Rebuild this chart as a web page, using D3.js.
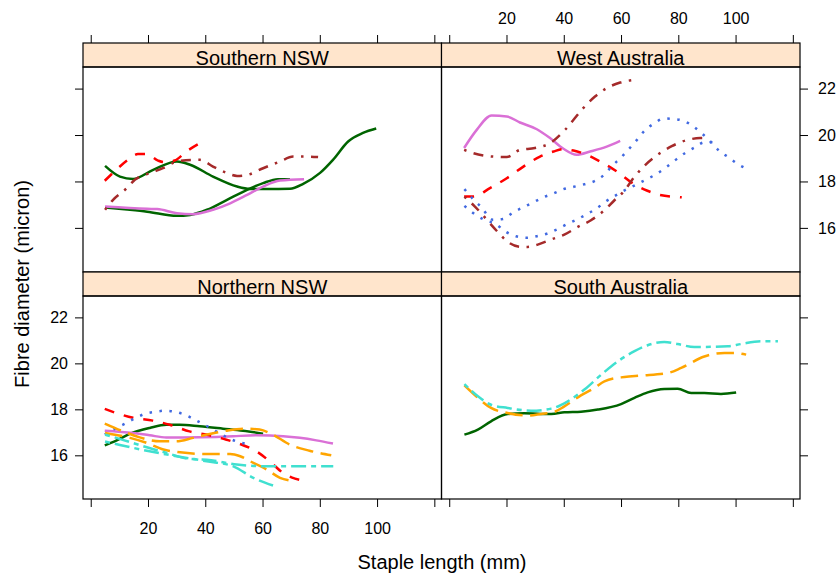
<!DOCTYPE html>
<html>
<head>
<meta charset="utf-8">
<script src="https://cdn.jsdelivr.net/npm/d3@7"></script>
<style>
  body { margin: 0; background: #fff; }
  svg { display: block; font-family: "Liberation Sans", Arial, sans-serif; }
</style>
</head>
<body>
<svg id="chart"></svg>
<script>
// panel names, left-right then top-bottom
const regions = ['Southern NSW', 'West Australia', 'Northern NSW', 'South Australia'];

// one colour and line type per group
const groupColors = ['#006400', '#FF0000', '#4169E1', '#A52A2A', '#DA70D6', '#FFA500', '#40E0D0'];
const groupDash = [null, '10,10', '2.5,7.5', '2.5,7.5,10,7.5', null, '17.5,7.5', '5,5,15,5'];

const xTicks = [0, 20, 40, 60, 80, 100, 120];
const xLabels = [20, 40, 60, 80, 100];
const yTicks = [16, 18, 20, 22];

// smoothed curves
const southernNSW = [
  { group: 0, x: [5.0, 10.2, 14.8, 21.8, 30.1, 34.7, 42.7, 51.1, 55.6, 61.6, 69.6, 74.2, 80.1, 84.6, 89.9, 95.1, 99.7],
    y: [18.67, 18.21, 18.11, 18.50, 18.86, 18.72, 18.21, 17.78, 17.68, 17.68, 17.69, 17.90, 18.37, 18.93, 19.72, 20.09, 20.28] },
  { group: 0, x: [5.0, 13.7, 19.7, 30.1, 34.7, 40.6, 47.6, 54.6, 60.2, 65.4, 69.6],
    y: [16.88, 16.78, 16.70, 16.52, 16.56, 16.78, 17.21, 17.64, 17.93, 18.10, 18.10] },
  { group: 4, x: [5.0, 19.7, 23.2, 30.1, 35.7, 42.7, 48.7, 54.6, 60.2, 66.1, 74.5],
    y: [16.92, 16.82, 16.81, 16.63, 16.59, 16.78, 17.06, 17.42, 17.78, 18.04, 18.10] },
  { group: 1, x: [4.9, 8.9, 13.0, 16.5, 19.4, 23.5, 25.8, 29.3, 33.4, 38.6],
    y: [18.03, 18.50, 18.93, 19.18, 19.18, 18.90, 18.83, 18.90, 19.29, 19.68] },
  { group: 3, x: [5.0, 7.8, 12.6, 15.4, 20.7, 25.2, 30.1, 35.7, 38.2, 42.7, 47.6, 51.1, 54.6, 60.2, 66.1, 70.7, 75.6, 79.4],
    y: [16.78, 17.21, 17.71, 18.07, 18.36, 18.57, 18.86, 18.93, 18.93, 18.64, 18.36, 18.24, 18.28, 18.57, 18.86, 19.07, 19.07, 19.05] }
];

const westAustralia = [
  { group: 4, x: [5.2, 9.6, 14.8, 20.1, 24.7, 30.6, 35.2, 39.9, 44.5, 49.2, 55.0, 59.7],
    y: [19.44, 20.22, 20.84, 20.80, 20.54, 20.25, 19.87, 19.41, 19.15, 19.29, 19.50, 19.75] },
  { group: 3, x: [5.2, 8.4, 15.4, 20.1, 24.7, 29.9, 35.2, 40.4, 46.8, 50.9, 55.0, 59.7, 64.7],
    y: [19.36, 19.22, 19.07, 19.05, 19.36, 19.44, 19.65, 20.22, 21.16, 21.66, 22.02, 22.26, 22.38] },
  { group: 1, x: [5.2, 8.4, 14.2, 20.1, 25.9, 31.7, 36.4, 39.9, 43.4, 48.0, 52.7, 58.5, 64.3, 69.0, 73.6, 81.2],
    y: [17.35, 17.35, 17.71, 18.14, 18.64, 19.07, 19.29, 19.39, 19.33, 19.15, 18.86, 18.43, 17.90, 17.61, 17.42, 17.32] },
  { group: 2, x: [5.3, 8.2, 11.1, 15.2, 18.7, 22.2, 25.7, 29.2, 32.7, 36.4, 39.9, 43.5, 47.2, 50.7, 54.2, 56.8, 60.0, 62.6, 65.7, 68.4, 71.6, 75.0, 78.3, 81.8, 85.5, 88.5, 91.3, 94.3, 97.8, 101.0, 104.7],
    y: [17.67, 17.26, 16.91, 16.35, 16.38, 16.66, 16.88, 17.09, 17.31, 17.48, 17.67, 17.77, 17.88, 18.01, 18.30, 18.66, 19.03, 19.38, 19.81, 20.21, 20.50, 20.71, 20.69, 20.61, 20.35, 20.04, 19.71, 19.32, 19.02, 18.73, 18.51] },
  { group: 2, x: [5.3, 8.6, 11.7, 16.3, 19.8, 23.3, 27.1, 30.6, 34.1, 37.5, 41.1, 44.6, 48.0, 51.4, 54.8, 58.3, 61.4, 64.9, 68.4, 72.1, 76.0, 79.2, 82.4, 85.5, 89.0, 92.3],
    y: [16.95, 16.62, 16.38, 16.16, 15.83, 15.64, 15.57, 15.64, 15.75, 15.93, 16.16, 16.36, 16.59, 16.83, 17.15, 17.41, 17.63, 17.84, 18.06, 18.30, 18.63, 18.94, 19.23, 19.45, 19.68, 19.69] },
  { group: 3, x: [5.3, 8.8, 16.9, 20.4, 25.1, 27.4, 30.9, 35.6, 40.2, 44.9, 49.5, 54.2, 57.7, 60.8, 64.7, 67.8, 73.4, 77.7, 83.0, 87.6, 89.4],
    y: [17.34, 16.94, 15.83, 15.40, 15.18, 15.18, 15.28, 15.50, 15.71, 16.04, 16.33, 16.76, 17.19, 17.55, 18.20, 18.63, 19.20, 19.52, 19.78, 19.87, 19.87] }
];

const northernNSW = [
  { group: 0, x: [4.9, 8.9, 13.6, 20.6, 26.4, 31.1, 38.1, 46.2, 53.2, 60.2],
    y: [16.43, 16.64, 16.93, 17.19, 17.33, 17.33, 17.26, 17.16, 17.07, 16.94] },
  { group: 4, x: [4.9, 14.8, 20.6, 26.4, 32.2, 43.9, 49.7, 57.9, 67.2, 73.0, 78.8, 84.6],
    y: [17.07, 16.97, 16.87, 16.78, 16.78, 16.80, 16.83, 16.87, 16.83, 16.76, 16.65, 16.51] },
  { group: 1, x: [4.9, 8.9, 14.8, 21.7, 27.6, 34.5, 41.5, 47.4, 52.0, 57.9, 62.5, 67.2, 70.1, 74.2],
    y: [18.02, 17.84, 17.63, 17.51, 17.33, 17.04, 16.87, 16.68, 16.50, 16.17, 15.74, 15.23, 15.04, 14.90] },
  { group: 2, x: [4.9, 8.9, 11.9, 15.3, 18.8, 22.3, 26.0, 29.6, 33.3, 36.8, 40.3, 43.8, 50.8, 54.3],
    y: [16.90, 17.19, 17.37, 17.60, 17.80, 17.89, 17.94, 17.89, 17.74, 17.52, 17.29, 17.04, 16.61, 16.50] },
  { group: 5, x: [4.9, 11.3, 17.1, 24.1, 29.9, 35.7, 41.5, 47.4, 54.3, 59.0, 63.6, 69.5, 76.4, 84.0],
    y: [17.38, 17.04, 16.78, 16.61, 16.61, 16.76, 16.93, 17.07, 17.16, 17.12, 16.90, 16.47, 16.20, 16.00] },
  { group: 5, x: [5.0, 13.7, 19.6, 25.4, 31.2, 39.3, 48.7, 52.2, 56.8, 61.5, 66.1, 69.6],
    y: [16.97, 16.76, 16.54, 16.25, 16.13, 16.06, 16.06, 15.96, 15.67, 15.38, 15.02, 14.90] },
  { group: 6, x: [5.0, 8.9, 19.6, 26.6, 34.7, 40.5, 51.0, 61.5, 84.7],
    y: [16.90, 16.76, 16.35, 16.10, 15.84, 15.81, 15.60, 15.52, 15.52] },
  { group: 6, x: [5.0, 10.2, 19.6, 30.0, 40.5, 49.8, 56.8, 63.8],
    y: [16.60, 16.45, 16.20, 15.96, 15.74, 15.52, 15.02, 14.68] }
];

const southAustralia = [
  { group: 0, x: [5.3, 10.0, 14.6, 20.4, 26.2, 32.1, 35.6, 40.2, 46.0, 51.9, 60.0, 64.7, 69.3, 75.1, 79.8, 84.5, 89.1, 94.9, 100.2],
    y: [16.90, 17.12, 17.48, 17.80, 17.83, 17.80, 17.80, 17.87, 17.90, 17.99, 18.23, 18.50, 18.74, 18.89, 18.90, 18.71, 18.71, 18.67, 18.73] },
  { group: 5, x: [5.3, 10.0, 14.6, 20.4, 27.4, 32.1, 36.7, 40.2, 46.0, 50.7, 54.2, 61.2, 67.0, 76.3, 81.0, 89.1, 96.1, 99.6, 103.7],
    y: [19.04, 18.50, 18.06, 17.84, 17.73, 17.80, 17.89, 18.13, 18.61, 18.93, 19.22, 19.41, 19.47, 19.58, 19.80, 20.30, 20.45, 20.45, 20.38] },
  { group: 6, x: [5.3, 10.0, 14.6, 20.4, 28.6, 35.6, 41.4, 47.2, 53.1, 58.9, 64.7, 69.3, 75.1, 79.8, 85.6, 97.3, 101.9, 108.9, 114.8],
    y: [19.10, 18.57, 18.20, 18.06, 17.94, 18.03, 18.35, 18.86, 19.51, 20.09, 20.53, 20.79, 20.93, 20.84, 20.71, 20.74, 20.84, 20.96, 20.96] }
];

const panels = [southernNSW, westAustralia, northernNSW, southAustralia];

const width = 838;
const height = 575;
const colEdges = [83, 441.5, 800];
const rowEdges = [
  { strip: 43, top: 67, bottom: 272 },
  { strip: 272, top: 296, bottom: 499 }
];
const tickLen = 8;

const svg = d3.select('#chart')
  .attr('width', width)
  .attr('height', height);

const line = (xs, ys) => d3.line()
  .x(d => xs(d[0]))
  .y(d => ys(d[1]))
  .curve(d3.curveMonotoneX);

function styleAxis(g) {
  g.attr('font-family', null).attr('font-size', 16);
  g.select('.domain').remove();
  g.selectAll('.tick line').attr('stroke', '#000');
  g.selectAll('.tick text').attr('fill', '#000');
}

panels.forEach((curves, i) => {
  const col = i % 2;
  const row = rowEdges[Math.floor(i / 2)];
  const rowIdx = Math.floor(i / 2);
  const left = colEdges[col];
  const right = colEdges[col + 1];

  const x = d3.scaleLinear().domain([-2.7, 122.5]).range([left, right]);
  const y = d3.scaleLinear().domain([14.1, 22.93]).range([row.bottom, row.top]);

  // strip
  svg.append('rect')
    .attr('x', left).attr('y', row.strip)
    .attr('width', right - left).attr('height', row.top - row.strip)
    .attr('fill', '#FFE5CC').attr('stroke', '#000').attr('stroke-width', 1.2);
  svg.append('text')
    .attr('x', (left + right) / 2).attr('y', row.strip + 22.3)
    .attr('text-anchor', 'middle').attr('font-size', 20)
    .text(regions[i]);

  // curves
  const g = svg.append('g');
  curves.forEach(c => {
    g.append('path')
      .datum(c.x.map((v, k) => [v, c.y[k]]))
      .attr('d', line(x, y))
      .attr('fill', 'none')
      .attr('stroke', groupColors[c.group])
      .attr('stroke-width', 2.5)
      .attr('stroke-linejoin', 'round')
      .attr('stroke-dasharray', groupDash[c.group]);
  });

  // panel box
  svg.append('rect')
    .attr('x', left).attr('y', row.top)
    .attr('width', right - left).attr('height', row.bottom - row.top)
    .attr('fill', 'none').attr('stroke', '#000').attr('stroke-width', 1.2);

  // x axis: bottom on lower row, top on upper row (above the strip)
  const xFmt = d => (col === rowIdx ? '' : '') + ((rowIdx === 1 && col === 0) || (rowIdx === 0 && col === 1)
    ? (xLabels.includes(d) ? d : '') : '');
  if (rowIdx === 1) {
    svg.append('g')
      .attr('transform', `translate(0,${row.bottom})`)
      .call(d3.axisBottom(x).tickValues(xTicks).tickSize(tickLen).tickPadding(16).tickFormat(xFmt))
      .call(styleAxis);
  } else {
    svg.append('g')
      .attr('transform', `translate(0,${row.strip})`)
      .call(d3.axisTop(x).tickValues(xTicks).tickSize(tickLen).tickPadding(11).tickFormat(xFmt))
      .call(styleAxis);
  }

  // y axis: left on first column, right on second
  const yFmt = d => ((rowIdx === 1 && col === 0) || (rowIdx === 0 && col === 1)) ? d : '';
  if (col === 0) {
    svg.append('g')
      .attr('transform', `translate(${left},0)`)
      .call(d3.axisLeft(y).tickValues(yTicks).tickSize(tickLen).tickPadding(7).tickFormat(yFmt))
      .call(styleAxis);
  } else {
    svg.append('g')
      .attr('transform', `translate(${right},0)`)
      .call(d3.axisRight(y).tickValues(yTicks).tickSize(tickLen).tickPadding(10).tickFormat(yFmt))
      .call(styleAxis);
  }
});

// axis titles
svg.append('text')
  .attr('x', 442).attr('y', 569)
  .attr('text-anchor', 'middle').attr('font-size', 20)
  .text('Staple length (mm)');

svg.append('text')
  .attr('transform', 'translate(29,284) rotate(-90)')
  .attr('text-anchor', 'middle').attr('font-size', 20)
  .text('Fibre diameter (micron)');
</script>
</body>
</html>
